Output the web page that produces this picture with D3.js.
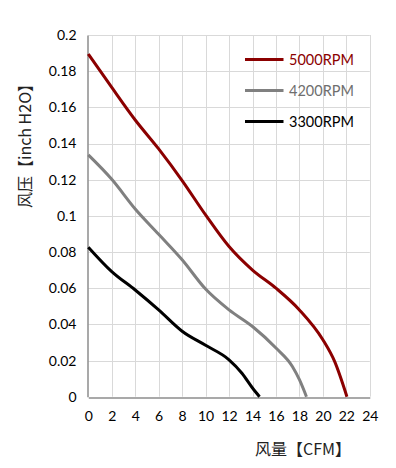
<!DOCTYPE html>
<html>
<head>
<meta charset="utf-8">
<script src="https://cdn.jsdelivr.net/npm/d3@7"></script>
<style>
html,body{margin:0;padding:0;background:#fff;}
svg{display:block;}
</style>
</head>
<body>
<script>
// ---- data ----
const seriesNames = ["5000RPM", "4200RPM", "3300RPM"];
const seriesColors = ["#8B0000", "#808080", "#000000"];
const flow5000 = [0, 2, 4, 6, 8, 10, 12, 14, 16, 18, 20, 21, 22.05];
const pres5000 = [0.1895, 0.171, 0.153, 0.137, 0.1195, 0.1005, 0.083, 0.070, 0.060, 0.048, 0.0315, 0.0195, 0];
const flow4200 = [0, 2, 4, 6, 8, 10, 12, 14, 16, 17.4, 18, 18.6];
const pres4200 = [0.1337, 0.1202, 0.1038, 0.0898, 0.0757, 0.0595, 0.048, 0.0388, 0.0269, 0.0167, 0.0094, 0];
const flow3300 = [0, 2, 4, 6, 8, 10, 12, 13.1, 14, 14.6];
const pres3300 = [0.0827, 0.0692, 0.059, 0.048, 0.0362, 0.0284, 0.0204, 0.013, 0.0048, 0];
const xTicks = [0, 2, 4, 6, 8, 10, 12, 14, 16, 18, 20, 22, 24];
const yTicks = [0, 0.02, 0.04, 0.06, 0.08, 0.1, 0.12, 0.14, 0.16, 0.18, 0.2];
const xTitle = "风量【CFM】";
const yTitle = "风压【inch H2O】";

const W = 396, H = 468;
const L = 88.3, R = 369.8, T = 35, B = 396.7;
const svg = d3.select("body").append("svg").attr("width", W).attr("height", H);

const x = d3.scaleLinear().domain([0, 24]).range([L, R]);
const y = d3.scaleLinear().domain([0, 0.2]).range([B, T]);

const font = "Lato, 'Open Sans', sans-serif";

// grid
const grid = svg.append("g");
grid.selectAll(".vg").data(xTicks.slice(1)).enter().append("line")
  .attr("x1", d => Math.round(x(d)) + 0.5).attr("x2", d => Math.round(x(d)) + 0.5)
  .attr("y1", T).attr("y2", B).attr("stroke", "#d9d9d9").attr("stroke-width", 1);
grid.selectAll(".hg").data(yTicks.slice(1)).enter().append("line")
  .attr("y1", d => Math.round(y(d)) + 0.5).attr("y2", d => Math.round(y(d)) + 0.5)
  .attr("x1", L).attr("x2", R).attr("stroke", "#d9d9d9").attr("stroke-width", 1);

// axes
const xAxis = d3.axisBottom(x).tickValues(xTicks).tickSize(0).tickPadding(14).tickFormat(d3.format("d"));
const yAxis = d3.axisLeft(y).tickValues(yTicks).tickSize(0).tickPadding(10).tickFormat(d => d === 0 ? "0" : String(+d.toFixed(2)));

const gx = svg.append("g").attr("transform", `translate(0,${Math.round(B) + 0.5})`).call(xAxis);
const gy = svg.append("g").attr("transform", `translate(${Math.round(L) - 0.5},0)`).call(yAxis);
[gx, gy].forEach(g => {
  g.select(".domain").attr("stroke", "#8c8c8c").attr("stroke-width", 1.5);
  g.selectAll("text").attr("font-family", font).attr("font-size", 14).attr("fill", "#000");
});
gy.selectAll("text").attr("dx", -1);

// curves
const allFlow = [flow5000, flow4200, flow3300];
const allPres = [pres5000, pres4200, pres3300];
const line = d3.line().x(d => x(d[0])).y(d => y(d[1])).curve(d3.curveMonotoneX);
allFlow.forEach((f, i) => {
  const pts = f.map((v, j) => [v, allPres[i][j]]);
  svg.append("path").datum(pts).attr("d", line)
    .attr("fill", "none").attr("stroke", seriesColors[i]).attr("stroke-width", 3)
    .attr("stroke-linecap", "butt").attr("stroke-linejoin", "round");
});

// legend
const lg = svg.append("g");
seriesNames.forEach((n, i) => {
  const ly = 59.5 + i * 31;
  lg.append("line").attr("x1", 245).attr("x2", 283.5).attr("y1", ly).attr("y2", ly)
    .attr("stroke", seriesColors[i]).attr("stroke-width", 3);
  lg.append("text").attr("x", 289).attr("y", ly).attr("dy", "0.36em")
    .attr("font-family", font).attr("font-size", 14.5).attr("fill", seriesColors[i] === "#808080" ? "#6e6e6e" : seriesColors[i]).text(n);
});

// titles
svg.append("text").attr("x", 303).attr("y", 449).attr("dy", "0.36em").attr("text-anchor", "middle")
  .attr("font-family", "'Noto Sans CJK SC', sans-serif").attr("font-size", 16).attr("fill", "#222").text(xTitle);
svg.append("text").attr("transform", "translate(25,142) rotate(-90)").attr("dy", "0.36em").attr("text-anchor", "middle")
  .attr("font-family", "'Noto Sans CJK SC', sans-serif").attr("font-size", 16).attr("fill", "#222").text(yTitle);
</script>
</body>
</html>
